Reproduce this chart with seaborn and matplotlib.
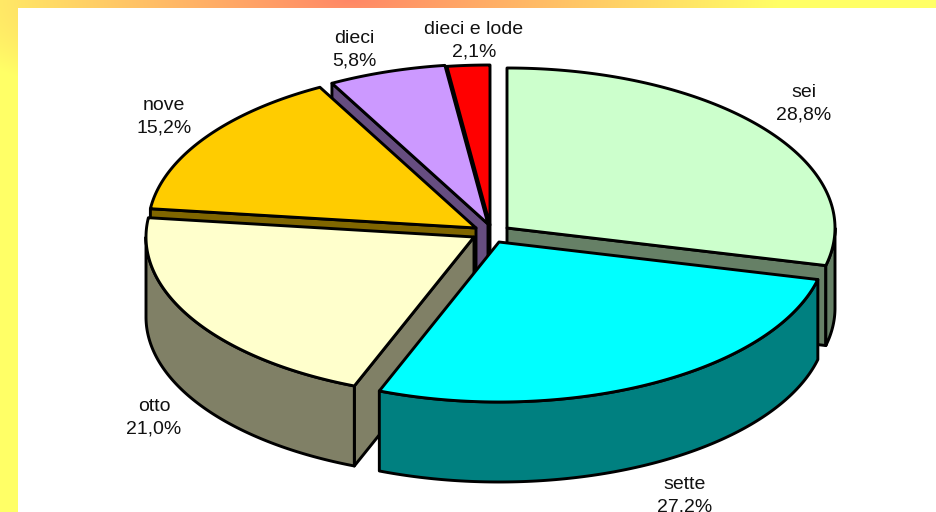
import matplotlib
matplotlib.use('Agg')
import matplotlib.pyplot as plt
from matplotlib.patches import Polygon, Rectangle
import numpy as np
import seaborn as sns

categories = ['sei', 'sette', 'otto', 'nove', 'dieci', 'dieci e lode']
shares = [28.8, 27.2, 21.0, 15.2, 5.8, 2.1]
top_colors = ['#CCFFCC', '#00FFFF', '#FFFFCC', '#FFCC00', '#CC99FF', '#FF0000']

# where each exploded slice sits on the canvas, and its label
apex = {'sei': (507, 228), 'sette': (499, 242), 'otto': (474, 237),
        'nove': (476, 228), 'dieci': (488, 224), 'dieci e lode': (490, 225)}
label_pos = {'sei': (804, 104), 'sette': (685, 496), 'otto': (154, 418),
             'nove': (164, 117), 'dieci': (354, 50), 'dieci e lode': (474, 41)}
draw_order = ['dieci e lode', 'dieci', 'nove', 'sei', 'otto', 'sette']

RX = 328
RY = 160
DEPTH = 80
LW = 2.1


def rim(name, a0, a1):
    t = np.radians(np.linspace(a0, a1, 120))
    cx, cy = apex[name]
    return np.column_stack([cx + RX * np.sin(t), cy - RY * np.cos(t)])


def add_face(ax, pts, color):
    ax.add_patch(Polygon(pts, closed=True, facecolor=color, edgecolor='black',
                         linewidth=LW, joinstyle='round'))


def draw_slice(ax, name, a0, a1, color):
    side = tuple(c * 0.5 for c in color)
    cx, cy = apex[name]
    drop = np.array([0, DEPTH])
    centre = np.array([cx, cy])

    # radial walls, only the ones that face the viewer
    for edge, visible in ((a0, 180 <= a0 <= 360), (a1, 0 <= a1 <= 180)):
        if visible:
            p = rim(name, edge, edge)[0]
            add_face(ax, [centre, p, p + drop, centre + drop], side)

    # outer wall on the front half of the ellipse
    lo, hi = max(a0, 90), min(a1, 270)
    if lo < hi:
        arc = rim(name, lo, hi)
        add_face(ax, np.vstack([arc, arc[::-1] + drop]), side)

    add_face(ax, np.vstack([centre, rim(name, a0, a1)]), color)


def plot():
    sns.set_theme(style='white')
    plt.rcParams['font.family'] = ['Liberation Sans', 'DejaVu Sans']
    palette = sns.color_palette(top_colors)

    fig = plt.figure(figsize=(9.37, 5.12), dpi=100)
    ax = fig.add_axes([0, 0, 1, 1])
    ax.set_xlim(0, 937)
    ax.set_ylim(512, 0)
    ax.axis('off')

    # slide background, yellow with an orange glow along the top edge
    yy, xx = np.mgrid[0:512, 0:937]
    t = np.clip(1 - np.hypot((xx - 350) / 430, yy / 120), 0, 1)[..., None]
    bg = np.array([1, 1, 0.4]) * (1 - t) + np.array([1, 0.53, 0.4]) * t
    ax.imshow(bg, extent=(0, 937, 512, 0), aspect='auto', zorder=0)
    ax.add_patch(Rectangle((18, 8), 919, 504, facecolor='white', edgecolor='none'))

    total = sum(shares)
    ends = np.cumsum(shares) / total * 360
    starts = np.concatenate([[0], ends[:-1]])
    angles = dict(zip(categories, zip(starts, ends)))
    colors = dict(zip(categories, palette))

    for name in draw_order:
        draw_slice(ax, name, angles[name][0], angles[name][1], colors[name])

    for name, value in zip(categories, shares):
        x, y = label_pos[name]
        pct = '{:.1f}%'.format(value).replace('.', ',')
        ax.text(x, y, name + '\n' + pct, ha='center', va='center', fontsize=14,
                color='#111111', linespacing=1.42)

    fig.savefig('out.png', dpi=100)


if __name__ == '__main__':
    plot()
